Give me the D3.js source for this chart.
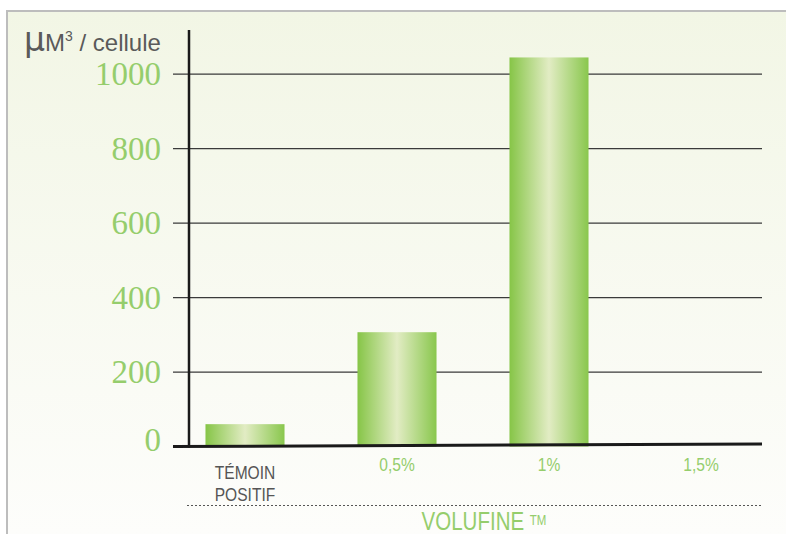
<!DOCTYPE html>
<html>
  <head>
    <meta charset="utf-8">
    <title>Volufine</title>
    <script src="https://cdn.jsdelivr.net/npm/d3@7"></script>
    <style>
      body { margin: 0; background: #fff; }
    </style>
  </head>
  <body>
    <div id="main"></div>
    <script>
      var WIDTH = 786, HEIGHT = 534;

      // data
      var categories = ["TÉMOIN\nPOSITIF", "0,5%", "1%", "1,5%"];
      var values = [60, 307, 1045, 0];
      var yTicks = [0, 200, 400, 600, 800, 1000];

      var svg = d3.select('#main').append('svg')
                  .attr('width', WIDTH).attr('height', HEIGHT);

      var defs = svg.append('defs');
      var bg = defs.append('linearGradient').attr('id', 'bg')
        .attr('x1', 0).attr('y1', 0).attr('x2', 0).attr('y2', 1);
      bg.append('stop').attr('offset', '0%').attr('stop-color', '#f2f6e5');
      bg.append('stop').attr('offset', '100%').attr('stop-color', '#fdfdfb');

      var barGrad = defs.append('linearGradient').attr('id', 'bar')
        .attr('x1', 0).attr('y1', 0).attr('x2', 1).attr('y2', 0);
      barGrad.append('stop').attr('offset', '0%').attr('stop-color', '#86c547');
      barGrad.append('stop').attr('offset', '50%').attr('stop-color', '#e2ecc4');
      barGrad.append('stop').attr('offset', '100%').attr('stop-color', '#89c74d');

      // panel
      svg.append('rect').attr('x', 7).attr('y', 11)
        .attr('width', WIDTH - 7).attr('height', HEIGHT - 11)
        .attr('fill', 'url(#bg)');
      svg.append('path').attr('d', 'M7,' + HEIGHT + 'V11H' + WIDTH)
        .attr('fill', 'none').attr('stroke', '#bdbdbd').attr('stroke-width', 2);

      var x = d3.scaleBand().domain(categories).range([169, 777])
        .paddingInner(0.48).paddingOuter(0.24);
      var y = d3.scaleLinear().domain([0, 1000]).range([446.5, 74.2]);

      // grid lines
      svg.append('g').selectAll('line').data(yTicks.slice(1)).enter()
        .append('line')
          .attr('x1', 173).attr('x2', 762)
          .attr('y1', function(d) { return y(d); })
          .attr('y2', function(d) { return y(d); })
          .attr('stroke', '#3a3a3a').attr('stroke-width', 1.2);

      // bars
      svg.append('g').selectAll('rect').data(values).enter()
        .append('rect')
          .attr('x', function(d, i) { return x(categories[i]); })
          .attr('width', x.bandwidth())
          .attr('y', function(d) { return y(d); })
          .attr('height', function(d) { return y(0) - y(d); })
          .attr('fill', 'url(#bar)');

      // axes lines
      svg.append('line').attr('x1', 189).attr('x2', 189)
        .attr('y1', 30).attr('y2', y(0) + 1)
        .attr('stroke', '#1a1a1a').attr('stroke-width', 2.5);
      svg.append('line').attr('x1', 173).attr('x2', 762)
        .attr('y1', y(0)).attr('y2', y(0) - 2.5)
        .attr('stroke', '#1a1a1a').attr('stroke-width', 3);

      // y tick labels (the 0 sits a little above the base line)
      svg.append('g').selectAll('text').data(yTicks).enter()
        .append('text')
          .attr('x', 161)
          .attr('y', function(d) { return y(d) + (d === 0 ? 4 : 11); })
          .attr('text-anchor', 'end')
          .attr('font-family', 'Liberation Serif, serif')
          .attr('font-size', 33)
          .attr('fill', '#95cd6c')
          .text(function(d) { return d; });

      // unit label
      var unit = svg.append('text').attr('x', 24).attr('y', 51)
        .attr('font-family', 'Liberation Sans, sans-serif')
        .attr('fill', '#5a5a5a');
      unit.append('tspan').attr('font-size', 33).attr('font-family', 'DejaVu Sans, sans-serif').text('μ');
      unit.append('tspan').attr('font-size', 24).text('M');
      unit.append('tspan').attr('font-size', 14).attr('dy', -10).text('3');
      unit.append('tspan').attr('font-size', 24).attr('dy', 10).text(' / cellule');

      // category labels, condensed
      var cat = svg.append('g').selectAll('g').data(categories).enter()
        .append('g')
          .attr('transform', function(d, i) {
            return 'translate(' + (x(d) + x.bandwidth() / 2) + ',' + (i === 0 ? 479 : 471) + ') scale(0.82,1)';
          })
        .append('text')
          .attr('text-anchor', 'middle')
          .attr('font-family', 'Liberation Sans, sans-serif')
          .attr('font-size', 19)
          .attr('fill', function(d, i) { return i === 0 ? '#555555' : '#95cd6c'; });
      cat.each(function(d) {
        var t = d3.select(this);
        d.split('\n').forEach(function(l, j) {
          t.append('tspan').attr('x', 0).attr('dy', j === 0 ? 0 : 22).text(l);
        });
      });

      // dotted separator
      svg.append('line').attr('x1', 187).attr('x2', 762)
        .attr('y1', 505.5).attr('y2', 505.5)
        .attr('stroke', '#555').attr('stroke-width', 1)
        .attr('stroke-dasharray', '2,2');

      var group = svg.append('g').attr('transform', 'translate(484,530) scale(0.82,1)')
        .append('text')
          .attr('text-anchor', 'middle')
          .attr('font-family', 'Liberation Sans, sans-serif')
          .attr('fill', '#95cd6c');
      group.append('tspan').attr('font-size', 25).text('VOLUFINE ');
      group.append('tspan').attr('font-size', 14).attr('dy', -5).text('TM');
    </script>
  </body>
</html>
